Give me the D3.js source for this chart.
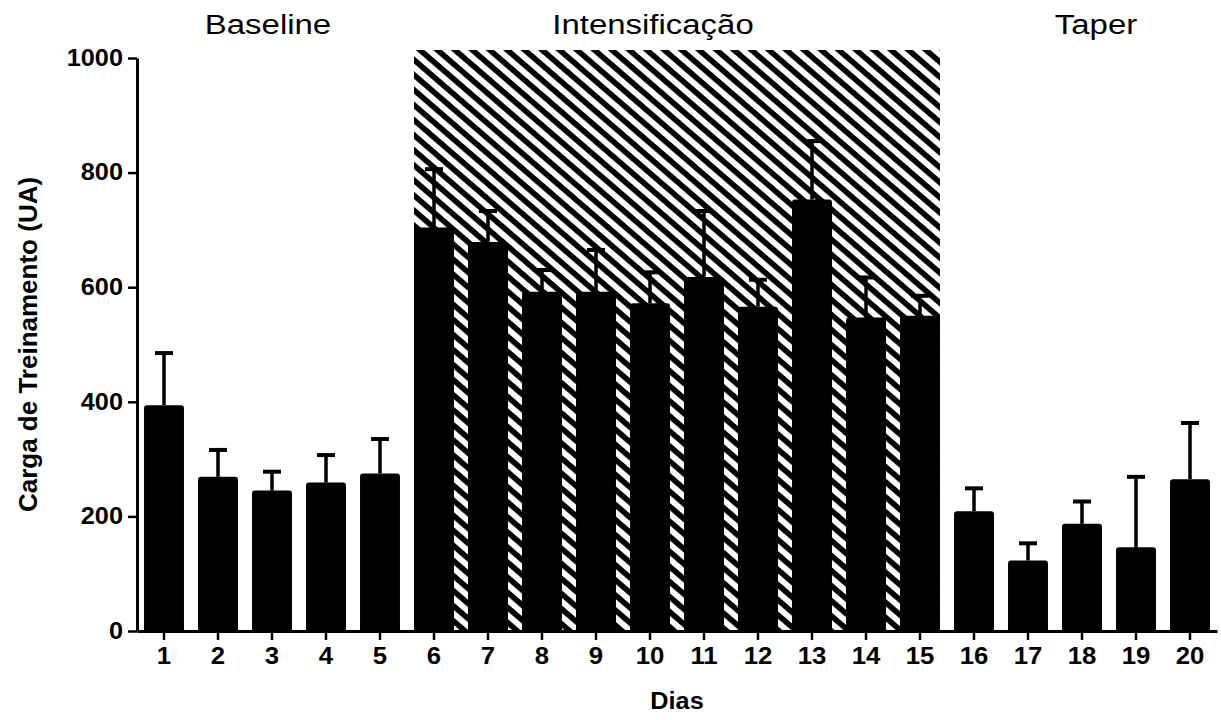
<!DOCTYPE html>
<html>
<head>
<meta charset="utf-8">
<script src="https://cdnjs.cloudflare.com/ajax/libs/d3/7.8.5/d3.min.js"></script>
<style>
  body { margin: 0; background: #fff; }
  svg { display: block; font-family: "Liberation Sans", Arial, sans-serif; }
</style>
</head>
<body>
<svg class="chart"></svg>
<script>
// Data
let days = ['1', '2', '3', '4', '5', '6', '7', '8', '9', '10',
  '11', '12', '13', '14', '15', '16', '17', '18', '19', '20'];
let meanLoad = [394, 269, 245, 259, 275, 704, 679, 592, 592, 572,
  618, 566, 753, 547, 550, 209, 123, 187, 146, 265];
let sdLoad = [91, 47, 33, 48, 60, 102, 54, 38, 73, 54,
  115, 47, 102, 70, 35, 40, 30, 39, 123, 98];
let yTicks = [0, 200, 400, 600, 800, 1000];
let phaseNames = ['Baseline', 'Intensificação', 'Taper'];
let phaseFirst = ['1', '6', '16'];
let phaseLast = ['5', '15', '20'];
let hatchedPhase = 'Intensificação';

let margin = {top: 58, right: 4, bottom: 89, left: 137},
  width = 1221 - margin.left - margin.right,
  height = 720 - margin.top - margin.bottom;

let svgRoot = d3.select('.chart')
  .attr('width', width + margin.left + margin.right)
  .attr('height', height + margin.top + margin.bottom);

let svg = svgRoot.append('g')
  .attr('transform', 'translate(' + margin.left + ',' + margin.top + ')');

let x = d3.scaleBand()
  .domain(days)
  .range([0, width])
  .paddingInner(0.26)
  .paddingOuter(0.13);

let y = d3.scaleLinear()
  .domain([0, 1000])
  .range([height, 0]);

// the source figure is a bit wider than tall, so text gets stretched sideways
let stretch = function (sel, k) {
  sel.each(function () {
    let len = this.getComputedTextLength();
    d3.select(this)
      .attr('textLength', len * k)
      .attr('lengthAdjust', 'spacingAndGlyphs');
  });
};

// Diagonal hatch for the intensification block
svgRoot.append('defs')
  .append('pattern')
  .attr('id', 'hatch')
  .attr('patternUnits', 'userSpaceOnUse')
  .attr('width', 20)
  .attr('height', 11.4)
  .attr('patternTransform', 'rotate(40.8)')
  .append('rect')
  .attr('width', 20)
  .attr('height', 5.6)
  .attr('fill', '#000');

phaseNames.forEach((name, i) => {
  if (name !== hatchedPhase) return;
  let x0 = x(phaseFirst[i]);
  let x1 = x(phaseLast[i]) + x.bandwidth();
  svg.append('rect')
    .attr('class', 'hatch')
    .attr('x', x0)
    .attr('y', y(1000) - 8)
    .attr('width', x1 - x0)
    .attr('height', height + 8)
    .attr('fill', 'url(#hatch)');
});

let rows = days.map((d, i) => ({day: d, mean: meanLoad[i], sd: sdLoad[i]}));

// Error bars (upper side only)
let err = svg.selectAll('.err')
  .data(rows)
  .enter().append('g')
  .attr('class', 'err')
  .attr('transform', (d) => 'translate(' + (x(d.day) + x.bandwidth() / 2) + ',0)');

err.append('line')
  .attr('y1', (d) => y(d.mean))
  .attr('y2', (d) => y(d.mean + d.sd))
  .attr('stroke', '#000')
  .attr('stroke-width', 3.5);

err.append('line')
  .attr('x1', -9)
  .attr('x2', 9)
  .attr('y1', (d) => y(d.mean + d.sd))
  .attr('y2', (d) => y(d.mean + d.sd))
  .attr('stroke', '#000')
  .attr('stroke-width', 4);

// Bars
svg.selectAll('.bar')
  .data(rows)
  .enter().append('rect')
  .attr('class', 'bar')
  .attr('x', (d) => x(d.day))
  .attr('y', (d) => y(d.mean))
  .attr('width', x.bandwidth())
  .attr('height', (d) => height - y(d.mean) + 2)
  .attr('rx', 3)
  .attr('fill', '#000');

// Axes
let xAxis = svg.append('g')
  .attr('class', 'x-axis')
  .attr('transform', 'translate(0,' + height + ')')
  .call(d3.axisBottom(x).tickSize(9).tickSizeOuter(0).tickPadding(8));

let yAxis = svg.append('g')
  .attr('class', 'y-axis')
  .call(d3.axisLeft(y).tickValues(yTicks).tickFormat(d3.format('d'))
    .tickSize(9).tickSizeOuter(0).tickPadding(5));

[xAxis, yAxis].forEach((ax) => {
  ax.select('.domain').attr('stroke', '#000').attr('stroke-width', 3);
  ax.selectAll('.tick line').attr('stroke', '#000').attr('stroke-width', 2.5);
  ax.selectAll('.tick text')
    .attr('fill', '#000')
    .attr('font-family', '"Liberation Sans", Arial, sans-serif')
    .attr('font-weight', 'bold');
});
xAxis.selectAll('.tick text').attr('font-size', 23).call(stretch, 1.12);
yAxis.selectAll('.tick text').attr('font-size', 23).call(stretch, 1.1);

// Axis titles
svg.append('text')
  .attr('transform', 'translate(-100,' + (height / 2) + ') rotate(-90)')
  .attr('text-anchor', 'middle')
  .attr('font-size', 26)
  .attr('font-weight', 'bold')
  .text('Carga de Treinamento (UA)');

svg.append('text')
  .attr('x', width / 2)
  .attr('y', height + 78)
  .attr('text-anchor', 'middle')
  .attr('font-size', 23)
  .attr('font-weight', 'bold')
  .text('Dias')
  .call(stretch, 1.1);

// Phase titles over each block
let titleShift = {'Baseline': -4, 'Intensificação': -24, 'Taper': 14};
svg.selectAll('.phase')
  .data(phaseNames)
  .enter().append('text')
  .attr('class', 'phase')
  .attr('x', (d, i) => (x(phaseFirst[i]) + x(phaseLast[i]) + x.bandwidth()) / 2 + titleShift[d])
  .attr('y', -24)
  .attr('text-anchor', 'middle')
  .attr('font-size', 27)
  .text((d) => d)
  .call(stretch, 1.22);
</script>
</body>
</html>
